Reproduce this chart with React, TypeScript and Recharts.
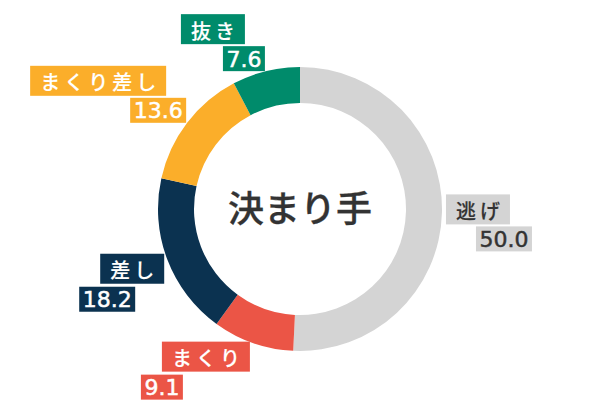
import { PieChart, Pie, Cell } from 'recharts'

const names = ['逃げ', 'まくり', '差し', 'まくり差し', '抜き']
const values = [50.0, 9.1, 18.2, 13.6, 7.6]
const colors = ['#D4D4D4', '#EB5546', '#0B3250', '#FBAE2A', '#008B6B']
const textColors = ['#333333', '#FFFFFF', '#FFFFFF', '#FFFFFF', '#FFFFFF']
const centerTitle = '決まり手'

const data = names.map((name, i) => ({ name, value: values[i] }))

const NAME_FONT = '500 20px "Noto Sans CJK JP"'
const VALUE_FONT = '22px "DejaVu Sans"'
const SPACING = 4

let ctx: CanvasRenderingContext2D | null = null
const measure = (text: string, font: string) => {
  if (!ctx) ctx = document.createElement('canvas').getContext('2d')
  if (!ctx) return text.length * 20
  ctx.font = font
  return ctx.measureText(text).width
}

const renderLabel = (props: any) => {
  const { cx, cy, midAngle, outerRadius, index } = props
  const rad = (-midAngle * Math.PI) / 180
  const x = cx + outerRadius * Math.cos(rad)
  const y = cy + outerRadius * Math.sin(rad)
  const name = names[index]
  const val = values[index].toFixed(1)
  const nw = measure(name, NAME_FONT) + SPACING * (name.length - 1) + 20
  const vw = measure(val, VALUE_FONT) + 7
  const NH = 30
  const VH = 25
  let nx, ny, vx, vy
  if (y < cy - 20) {
    // upper: value box hangs at the arc, name above it
    vx = x - 1 - vw
    vy = y - VH
    nx = vx + vw - 20 - nw
    ny = vy - 2 - NH
  } else if (x > cx) {
    nx = x + 4
    ny = y - 18
    vx = nx + nw + 22 - vw
    vy = ny + NH + 2
  } else {
    nx = x - 3 - nw
    ny = y + 1 - 7 * Math.abs(Math.cos(rad))
    vx = nx - 21
    vy = ny + NH + 3
  }
  const fg = textColors[index]
  return (
    <g key={`label-${index}`}>
      <rect x={nx} y={ny} width={nw} height={NH} fill={colors[index]} />
      <text
        x={nx + 10}
        y={ny + NH / 2 + 1}
        dominantBaseline="central"
        fill={fg}
        stroke={fg}
        strokeWidth={0.15}
        style={{ font: NAME_FONT, letterSpacing: SPACING }}
      >
        {name}
      </text>
      <rect x={vx} y={vy} width={vw} height={VH} fill={colors[index]} />
      <text
        x={vx + vw / 2}
        y={vy + VH / 2 + 8}
        textAnchor="middle"
        fill={fg}
        stroke={fg}
        strokeWidth={0.5}
        style={{ font: VALUE_FONT }}
      >
        {val}
      </text>
    </g>
  )
}

export default function App() {
  return (
    <div style={{ position: 'absolute', left: 0, top: 0, width: 600, height: 420, background: '#fff' }}>
      <PieChart width={600} height={420} margin={{ top: 0, right: 0, bottom: 0, left: 0 }}>
        <Pie
          data={data}
          dataKey="value"
          nameKey="name"
          cx={300}
          cy={209}
          innerRadius={106}
          outerRadius={142}
          startAngle={90}
          endAngle={-270}
          stroke="none"
          labelLine={false}
          label={renderLabel}
          isAnimationActive={false}
        >
          {data.map((entry, i) => (
            <Cell key={`cell-${i}`} fill={colors[i]} />
          ))}
        </Pie>
        <text
          x={300}
          y={206}
          textAnchor="middle"
          dominantBaseline="central"
          fill="#333333"
          stroke="#333333"
          strokeWidth={0.3}
          style={{ font: '500 36px "Noto Sans CJK JP"' }}
        >
          {centerTitle}
        </text>
      </PieChart>
    </div>
  )
}
